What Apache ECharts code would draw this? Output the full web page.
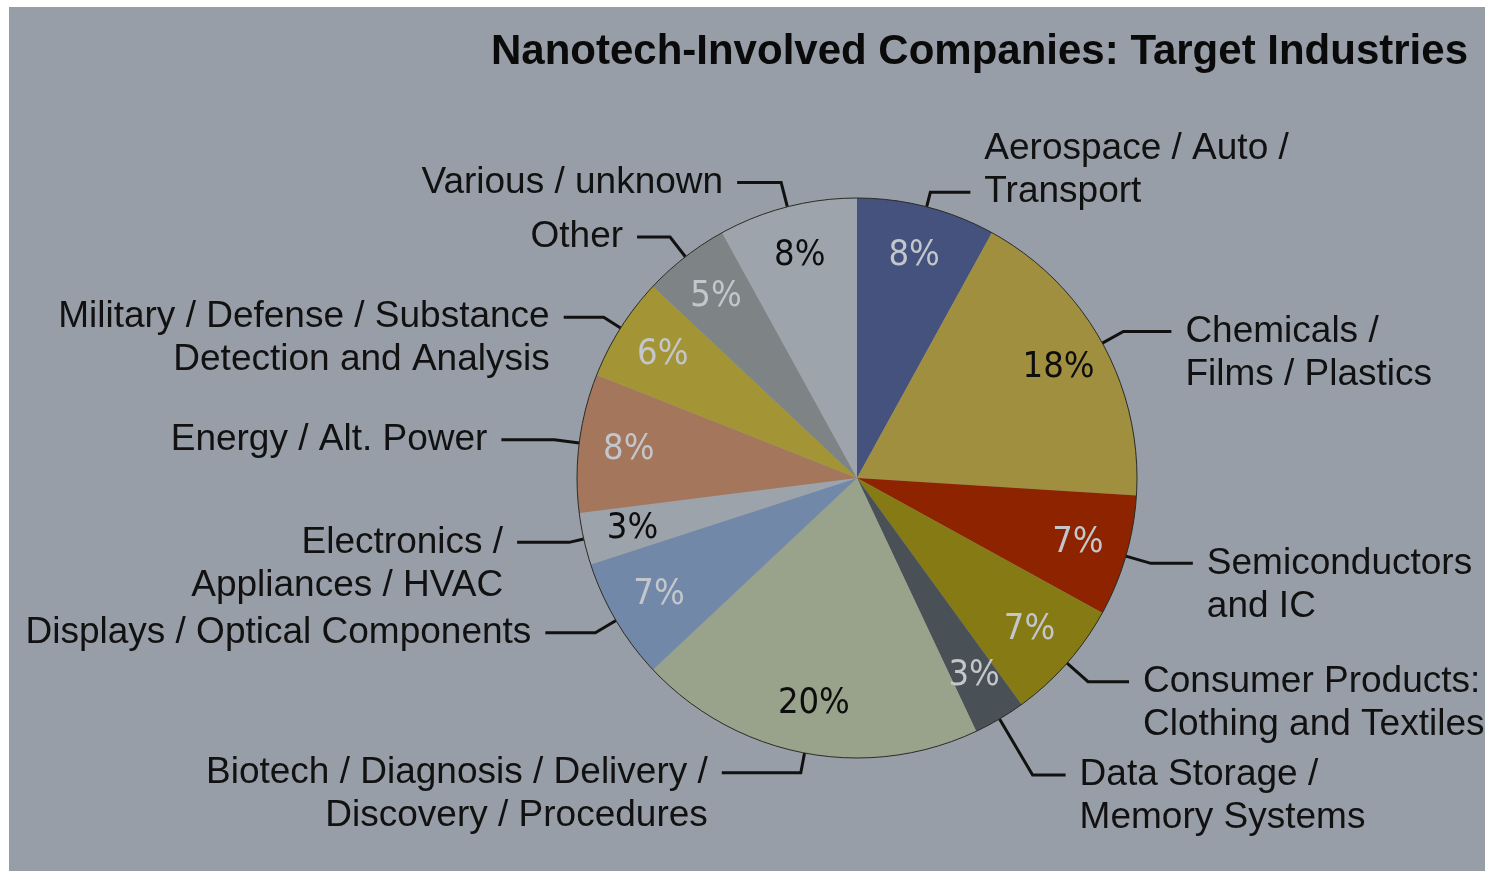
<!DOCTYPE html>
<html>
<head>
<meta charset="utf-8">
<title>Nanotech-Involved Companies: Target Industries</title>
<script src="https://cdn.jsdelivr.net/npm/echarts@6/dist/echarts.min.js"></script>
<style>
html, body { margin: 0; padding: 0; background: #fff; }
#main { width: 1493px; height: 871px; }
</style>
</head>
<body>
<div id="main"></div>
<script>
// industries, clockwise from 12 o'clock
var industries = [
    'Aerospace / Auto /\nTransport',
    'Chemicals /\nFilms / Plastics',
    'Semiconductors\nand IC',
    'Consumer Products:\nClothing and Textiles',
    'Data Storage /\nMemory Systems',
    'Biotech / Diagnosis / Delivery /\nDiscovery / Procedures',
    'Displays / Optical Components',
    'Electronics /\nAppliances / HVAC',
    'Energy / Alt. Power',
    'Military / Defense / Substance\nDetection and Analysis',
    'Other',
    'Various / unknown'
];
// share of companies, percent
var shares = [8, 18, 7, 7, 3, 20, 7, 3, 8, 6, 5, 8];

// styling
var sliceColors = ['#44527d', '#a08f3e', '#8e2300', '#857a14', '#4a5156', '#99a28a',
                   '#7288a8', '#9ca3aa', '#a4765c', '#a39536', '#7e8485', '#9da4ac'];
var LIGHT = '#c3c7cc', DARK = '#0d0d0d';
var pctColors = [LIGHT, DARK, LIGHT, LIGHT, LIGHT, DARK, LIGHT, DARK, LIGHT, LIGHT, LIGHT, DARK];
// leader line segments [radial, horizontal]
var leaders = [[15, 40], [24, 48], [26, 42], [28, 41], [65, 33], [20, 79],
               [24, 50], [15, 52], [25, 53], [20, 40], [25, 33], [25, 44]];
// which text line the leader points at (0 = single line label)
var anchorLine = [2, 1, 1, 1, 1, 1, 0, 1, 0, 1, 0, 0];

var CENTER = [857, 478];
var R = 280;

var nameData = industries.map(function (name, i) {
    return {
        name: name,
        value: shares[i],
        itemStyle: { color: sliceColors[i] },
        labelLine: { length: leaders[i][0], length2: leaders[i][1] }
    };
});

var pctData = shares.map(function (v, i) {
    return { name: industries[i], value: v, label: { color: pctColors[i] } };
});

var chart = echarts.init(document.getElementById('main'));
chart.setOption({
    animation: false,
    backgroundColor: '#fff',
    graphic: [{
        type: 'rect',
        z: -10,
        shape: { x: 9, y: 7, width: 1476, height: 864 },
        style: { fill: '#989ea7' }
    }],
    title: {
        text: 'Nanotech-Involved Companies: Target Industries',
        right: 20,
        top: 26,
        textStyle: {
            fontFamily: "'Liberation Sans', Arial, sans-serif",
            fontWeight: 'bold',
            fontSize: 42,
            color: '#0a0a0a'
        }
    },
    series: [{
        // slices + outside names
        type: 'pie',
        center: CENTER,
        radius: R,
        startAngle: 90,
        clockwise: true,
        avoidLabelOverlap: false,
        labelLayout: { hideOverlap: false },
        silent: true,
        itemStyle: { borderWidth: 0 },
        label: {
            show: true,
            position: 'outside',
            // a blank line keeps the leader on the right text line
            formatter: function (p) {
                var a = anchorLine[p.dataIndex];
                if (a === 1) return ' \n' + p.name;
                if (a === 2) return p.name + '\n ';
                return p.name;
            },
            color: '#111',
            fontFamily: "'Liberation Sans', Arial, sans-serif",
            fontSize: 37,
            lineHeight: 43,
            distanceToLabelLine: 14
        },
        labelLine: {
            show: true,
            smooth: false,
            lineStyle: { color: '#111', width: 3 }
        },
        data: nameData
    }, {
        // percentages, placed in a transparent ring
        type: 'pie',
        center: CENTER,
        radius: [174, R],
        startAngle: 90,
        clockwise: true,
        silent: true,
        itemStyle: { color: 'rgba(0,0,0,0)' },
        label: {
            show: true,
            position: 'inside',
            formatter: '{c}%',
            fontFamily: "'DejaVu Sans Condensed', 'Liberation Sans', sans-serif",
            fontSize: 36
        },
        labelLine: { show: false },
        data: pctData
    }, {
        // thin rim round the pie
        type: 'pie',
        center: CENTER,
        radius: R,
        silent: true,
        label: { show: false },
        labelLine: { show: false },
        itemStyle: { color: 'rgba(0,0,0,0)', borderColor: '#2b2b25', borderWidth: 1 },
        data: [{ name: 'rim', value: 1 }]
    }]
});
</script>
</body>
</html>
